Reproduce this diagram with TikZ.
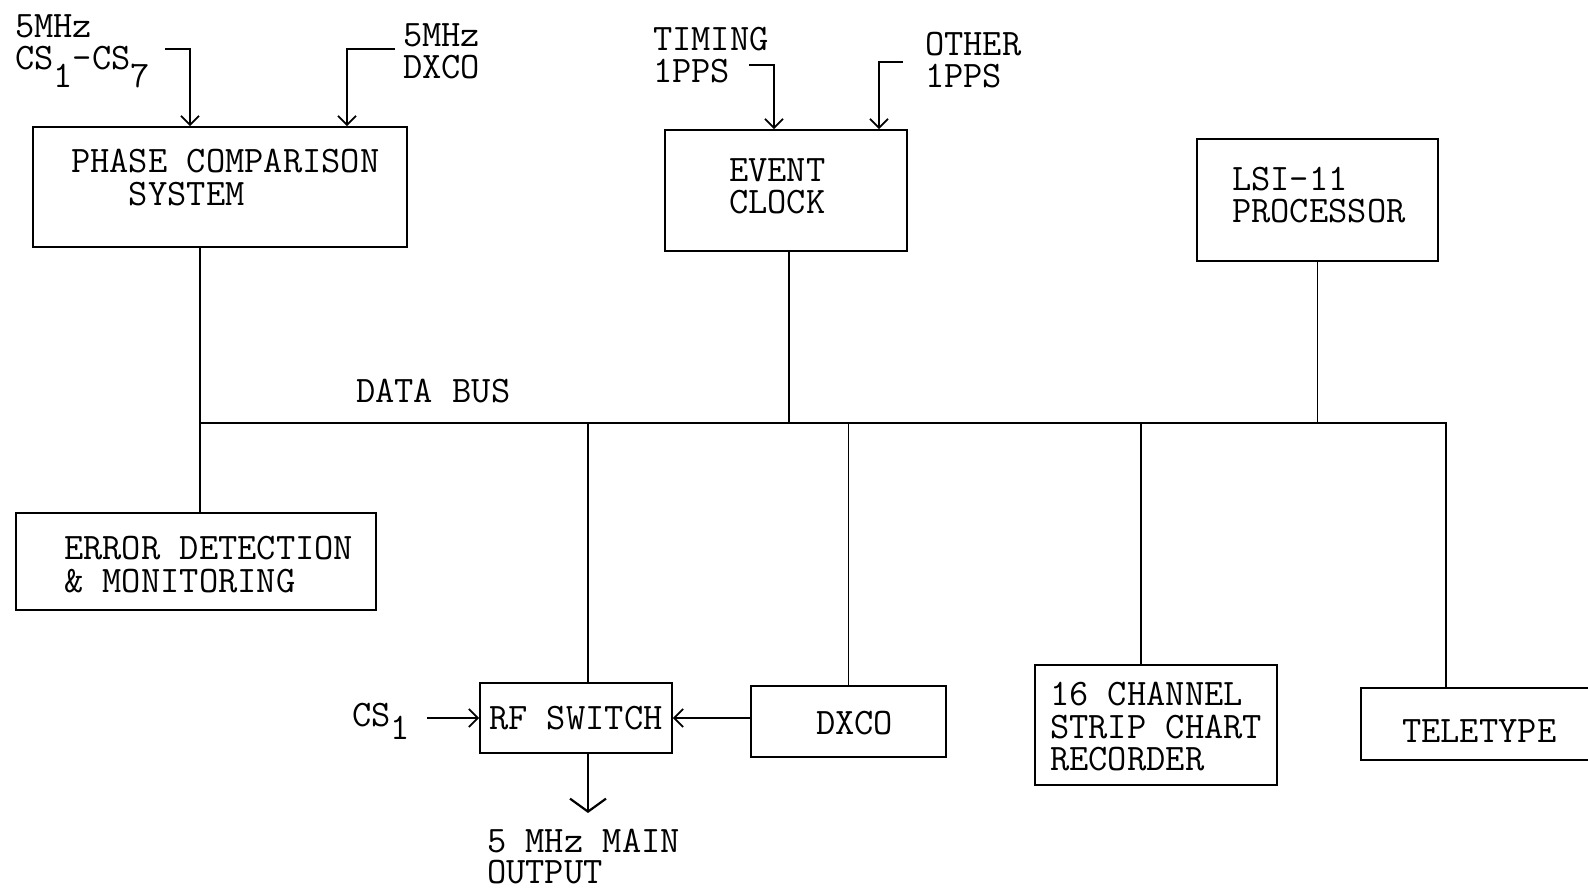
\documentclass[tikz,border=0pt]{standalone}
\usetikzlibrary{arrows.meta,calc}
\tikzset{
  box/.style={draw, line width=1.8pt, rectangle, inner sep=0pt},
  txt/.style={font=\ttfamily\fontsize{37.4}{32.5}\selectfont, inner sep=0pt, align=left, anchor=north west},
  conn/.style={line width=1.8pt},
  arr/.style={conn, -{Straight Barb[length=9pt,width=18pt]}},
  bigarr/.style={line width=2.2pt, -{Straight Barb[length=13pt,width=36pt]}}
}
\begin{document}
\begin{tikzpicture}[x=1pt,y=-1pt]
\useasboundingbox (0,0) rectangle (1588,890);
\clip (0,0) rectangle (1588,890);
% boxes
\node[box, minimum width=374, minimum height=120] (pcs) at (220,187) {};
\node[box, minimum width=242, minimum height=121] (ec) at (786,190.5) {};
\node[box, minimum width=241, minimum height=122] (lsi) at (1317.5,200) {};
\node[box, minimum width=360, minimum height=97] (err) at (196,561.5) {};
\node[box, minimum width=192, minimum height=70] (rf) at (576,718) {};
\node[box, minimum width=195, minimum height=71] (dxco) at (848.5,721.5) {};
\node[box, minimum width=242, minimum height=120] (rec) at (1156,725) {};
\node[box, minimum width=239, minimum height=72] (tty) at (1480.5,724) {};
% texts
\node[txt] (t5a) at (15,14) {5MHz\\CS\raisebox{-18pt}{1}-CS\raisebox{-18pt}{7}};
\node[txt] (t5b) at (403,23) {5MHz\\DXCO};
\node[txt] (ttim) at (653,27) {TIMING\\1PPS};
\node[txt] (toth) at (925,32) {OTHER\\1PPS};
\node[txt] (tpcs) at (71,149) {PHASE COMPARISON\\\phantom{PHA}SYSTEM};
\node[txt] (tec) at (729,158) {EVENT\\CLOCK};
\node[txt] (tlsi) at (1232,167) {LSI-11\\PROCESSOR};
\node[txt] (tbus) at (356,379) {DATA BUS};
\node[txt] (terr) at (64,536) {ERROR DETECTION\\\& MONITORING};
\node[txt] (tcs1) at (352,703) {CS\raisebox{-13pt}{1}};
\node[txt] (trf) at (489,706) {RF SWITCH};
\node[txt] (tdx) at (816,711) {DXCO};
\node[txt] (trec) at (1050,682) {16 CHANNEL\\STRIP CHART\\RECORDER};
\node[txt] (ttty) at (1402,719) {TELETYPE};
\node[txt] (tout) at (487,829) {5 MHz MAIN\\[-2pt]OUTPUT};
% input arrows
\coordinate (a1) at (165,49);
\draw[arr] (a1) -| ([xshift=-30pt]pcs.north);
\coordinate (a2) at (395,49);
\draw[arr] (a2) -| ([xshift=127pt]pcs.north);
\coordinate (a3) at (749,65);
\draw[arr] (a3) -| ([xshift=-12pt]ec.north);
\coordinate (a4) at (903,62);
\draw[arr] (a4) -| ([xshift=93pt]ec.north);
\coordinate (a5) at (427,718);
\draw[arr] (a5) -- (rf.west);
\draw[arr] (dxco.west |- rf.east) -- (rf.east);
\coordinate (a6) at (588,813);
\draw[bigarr] ([xshift=12pt]rf.south) -- ([xshift=12pt]rf.south |- a6);
% data bus
\coordinate (busL) at (200,423);
\coordinate (busR) at (1446,423);
\draw[conn] ([xshift=-20pt]pcs.south) -- ([xshift=-20pt]pcs.south |- err.north);
\draw[conn] (busL) -- (busR) -- (busR |- tty.north);
\draw[conn] ([xshift=3pt]ec.south) -- ([xshift=3pt]ec.south |- busL);
\draw[conn] (lsi.south) -- (lsi.south |- busL);
\draw[conn] ([xshift=12pt]rf.north |- busL) -- ([xshift=12pt]rf.north);
\draw[conn] (dxco.north |- busL) -- (dxco.north);
\draw[conn] ([xshift=-15pt]rec.north |- busL) -- ([xshift=-15pt]rec.north);
\end{tikzpicture}
\end{document}
